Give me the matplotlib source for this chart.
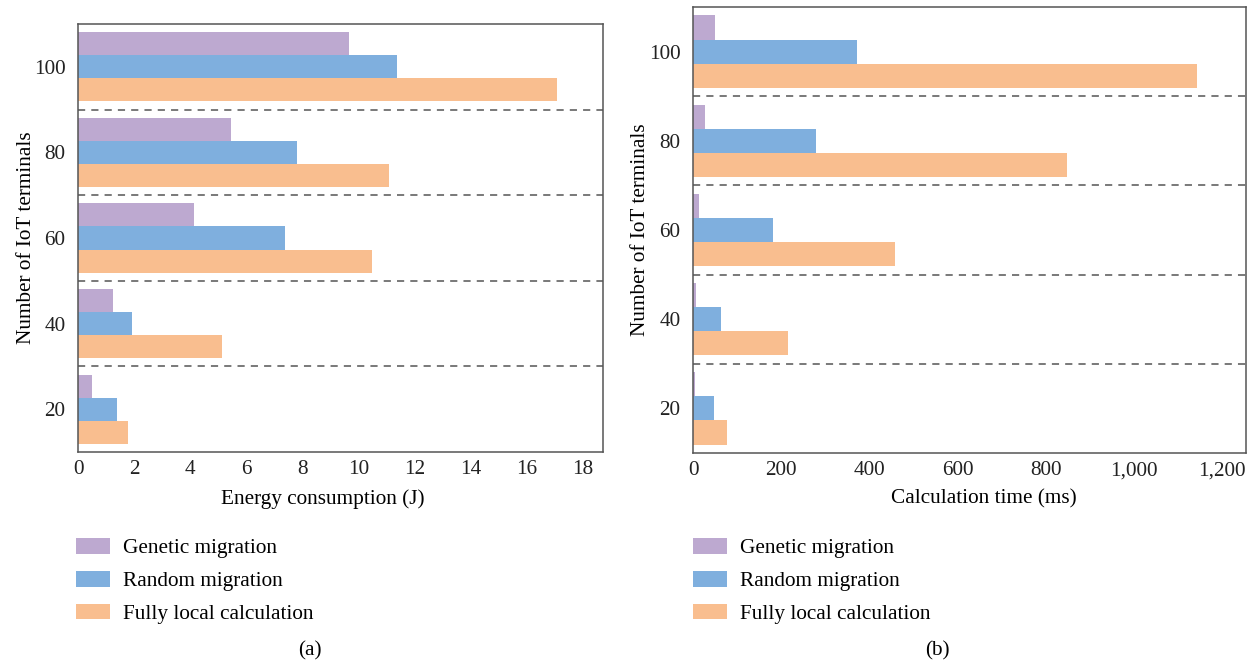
import numpy as np
from matplotlib import pyplot as plt
from matplotlib.ticker import FuncFormatter

plt.rcParams['font.family'] = ['Liberation Serif', 'DejaVu Serif']
plt.rcParams['font.size'] = 15.3

terminals = ['20', '40', '60', '80', '100']
series = ['Genetic migration', 'Random migration', 'Fully local calculation']
colors = ['#BDA9D0', '#7FAFDE', '#F9BE8F']

# energy consumption (J)
energy_genetic = [0.49, 1.24, 4.14, 5.47, 9.66]
energy_random = [1.39, 1.92, 7.40, 7.83, 11.40]
energy_local = [1.78, 5.15, 10.51, 11.09, 17.10]

# calculation time (ms)
time_genetic = [5, 6, 13, 27, 51]
time_random = [47, 63, 181, 279, 372]
time_local = [76, 215, 458, 849, 1144]

fig = plt.figure(figsize=(12.55, 6.65), dpi=100)
ax1 = fig.add_axes([0.0622, 0.3203, 0.4183, 0.6436])
ax2 = fig.add_axes([0.5522, 0.3188, 0.4406, 0.6707])

bh = 0.27
y = np.arange(len(terminals))
fs = 15.3

def draw(ax, vals, xmax, xticks, xlabel, xl, yl):
    for k, v in enumerate(vals):
        ax.barh(y + (1 - k) * bh, v, height=bh, color=colors[k], label=series[k])
    for b in y[:-1] + 0.5:
        ax.axhline(b, color='#555555', lw=1.1, dashes=(4.7, 4))
    ax.set_ylim(-0.5, len(terminals) - 0.5)
    ax.set_xlim(0, xmax)
    ax.set_yticks(y)
    ax.set_yticklabels(terminals)
    ax.set_xticks(xticks)
    ax.tick_params(length=0, labelsize=fs, colors='#222222')
    ax.tick_params(axis='y', pad=9)
    ax.tick_params(axis='x', pad=6)
    for s in ax.spines.values():
        s.set_color('#555555')
        s.set_linewidth(1.1)
    ax.set_xlabel(xlabel, fontsize=fs)
    ax.xaxis.set_label_coords(*xl)
    ax.set_ylabel('Number of IoT terminals', fontsize=fs)
    ax.yaxis.set_label_coords(yl, 0.5)

draw(ax1, [energy_genetic, energy_random, energy_local], 18.74,
     np.arange(0, 19, 2), 'Energy consumption (J)', (0.467, -0.086), -0.08)
draw(ax2, [time_genetic, time_random, time_local], 1254,
     np.arange(0, 1201, 200), 'Calculation time (ms)', (0.526, -0.081), -0.078)
ax2.xaxis.set_major_formatter(FuncFormatter(lambda v, p: '{:,.0f}'.format(v)))

for ax, x0 in [(ax1, 76), (ax2, 693)]:
    h, l = ax.get_legend_handles_labels()
    fig.legend(h, l, loc='upper left', bbox_to_anchor=(x0 / 1255, 1 - 538 / 665),
               frameon=False, fontsize=fs, handlelength=1.6, handleheight=0.75,
               handletextpad=0.6, labelspacing=0.6, borderpad=0, borderaxespad=0)

fig.text(310 / 1255, 1 - 651 / 665, '(a)', ha='center', va='center', fontsize=fs)
fig.text(937 / 1255, 1 - 651 / 665, '(b)', ha='center', va='center', fontsize=fs)

fig.savefig('out.png', dpi=100)
